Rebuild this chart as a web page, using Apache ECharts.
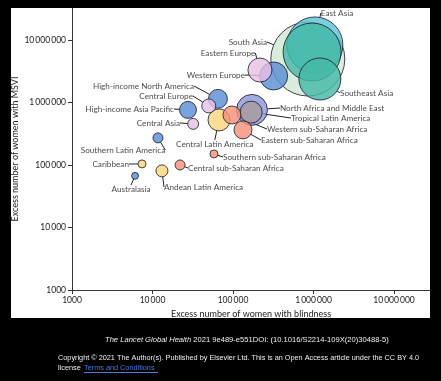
<!DOCTYPE html>
<html>
<head>
<meta charset="utf-8">
<script src="https://cdn.jsdelivr.net/npm/echarts@6/dist/echarts.min.js"></script>
<style>
html,body{margin:0;padding:0;background:#000;}
#chart{width:441px;height:381px;}
</style>
</head>
<body>
<div id="chart"></div>
<script>
// ---- data ----
var regions = ["South Asia","East Asia","","Southeast Asia","North Africa and Middle East","Western Europe","Eastern Europe","Central Latin America","Tropical Latin America","High-income North America","Western sub-Saharan Africa","Eastern sub-Saharan Africa","High-income Asia Pacific","Central Europe","Andean Latin America","Central Asia","Southern Latin America","Central sub-Saharan Africa","Southern sub-Saharan Africa","Caribbean","Australasia"];
var blindness = [850000,1040000,960000,1200000,172000,320000,216000,67000,168000,65000,97000,133000,27600,50000,13100,32000,11700,22000,58000,7400,6070];
var msvi = [4950000,8300000,6400000,2370000,760000,2650000,3300000,525000,700000,1140000,630000,364000,760000,880000,80500,454000,271000,100000,150000,104000,67000];
var bubbleWeight = [1369,784,841,441,240,196,144,121,121,90,81,81,72,49,36,30,25,25,16,16,12];
var groups = ["sa","ea","teal","teal","name","hi","ce","lat","tla","hi","ssa","ssa","hi","ce","lat","ce","hi","ssa","ssa","lat","hi"];
var xTicks = [1000,10000,100000,1000000,10000000];
var yTicks = [1000,10000,100000,1000000,10000000];

// ---- styles ----
var groupColor = {sa:"#cfe9d3", ea:"#5cc6d6", teal:"#45b8a7", name:"#8e97dc", hi:"#5a8fd5", ce:"#e6c1e4", lat:"#fbd57e", tla:"#a99b9c", ssa:"#f4917a"};
var labelPos = {
 "East Asia":[337,13,"center"],
 "South Asia":[267,42,"right"],
 "Eastern Europe":[228,53,"center"],
 "Western Europe":[245,75,"right"],
 "High-income North America":[194,86,"right"],
 "Central Europe":[193,96,"right"],
 "High-income Asia Pacific":[174,109,"right"],
 "Central Asia":[180,123,"right"],
 "Southern Latin America":[123,150,"center"],
 "Caribbean":[129,164,"right"],
 "Australasia":[131,189,"center"],
 "Andean Latin America":[164,187,"left"],
 "Central sub-Saharan Africa":[188,168,"left"],
 "Southern sub-Saharan Africa":[223,157,"left"],
 "Central Latin America":[176,144,"left"],
 "Eastern sub-Saharan Africa":[261,140,"left"],
 "Western sub-Saharan Africa":[267,129,"left"],
 "Tropical Latin America":[291,118,"left"],
 "North Africa and Middle East":[280,108,"left"],
 "Southeast Asia":[340,93,"left"]
};
var FONT = "Lato";

function fmt(v){
  var s = String(Math.round(v));
  if (s.length < 5) return s;
  return s.replace(/\B(?=(\d{3})+(?!\d))/g, "\u2009");
}

var data = regions.map(function(r,i){
  return {
    name: r,
    value: [blindness[i], msvi[i], bubbleWeight[i]],
    itemStyle: {color: groupColor[groups[i]]},
    label: {show: r !== ""},
    labelLine: {show: r !== ""}
  };
});

var chart = echarts.init(document.getElementById('chart'), null, {renderer:'canvas'});
chart.setOption({
  backgroundColor: '#fff',
  animation: false,
  grid: {left:72, right:11, top:8, bottom:91, containLabel:false, outerBoundsMode:'none'},
  xAxis: {
    type:'log', logBase:10, min:1000, max:28000000,
    name:'Excess number of women with blindness', nameLocation:'middle', nameGap:20, nameMoveOverlap:false,
    nameTextStyle:{fontFamily:FONT, fontSize:9, color:'#222'},
    axisLine:{show:true, lineStyle:{color:'#333', width:1}},
    axisTick:{show:true, length:4, lineStyle:{color:'#333'}, customValues:xTicks},
    axisLabel:{fontFamily:FONT, fontSize:8.5, color:'#222', margin:6, customValues:xTicks,
      formatter:function(v){ return fmt(v); }},
    splitLine:{show:false}
  },
  yAxis: {
    type:'log', logBase:10, min:1000, max:32400000,
    name:'Excess number of women with MSVI', nameLocation:'middle', nameGap:52, nameMoveOverlap:false,
    nameTextStyle:{fontFamily:FONT, fontSize:9, color:'#222'},
    axisLine:{show:true, lineStyle:{color:'#333', width:1}},
    axisTick:{show:true, length:4, lineStyle:{color:'#333'}, customValues:yTicks},
    axisLabel:{fontFamily:FONT, fontSize:8.5, color:'#222', margin:6, customValues:yTicks,
      formatter:function(v){ return fmt(v); }},
    splitLine:{show:false}
  },
  graphic: [
    {type:'rect', z:100, shape:{x:0, y:318, width:441, height:63}, style:{fill:'#000'}, silent:true},
    {type:'rect', z:100, shape:{x:0, y:0, width:441, height:8}, style:{fill:'#000'}, silent:true},
    {type:'rect', z:100, shape:{x:0, y:0, width:11, height:381}, style:{fill:'#000'}, silent:true},
    {type:'rect', z:100, shape:{x:430, y:0, width:11, height:381}, style:{fill:'#000'}, silent:true},
    {type:'group', z:101, children:[
      {type:'rect', shape:{x:13, y:323, width:42, height:36, r:3}, style:{fill:'#8c8c8c'}},
      {type:'rect', shape:{x:20, y:345, width:10, height:14}, style:{fill:'#444'}},
      {type:'rect', shape:{x:36, y:348, width:14, height:11}, style:{fill:'#555'}},
      {type:'text', x:12, y:363, style:{text:'ELSEVIER', fill:'#ddd', font:'9px "Liberation Serif"'}}
    ]},
    {type:'text', z:101, x:105, y:336, style:{
      text:'{i|The Lancet Global Health} 2021 9e489-e551DOI: (10.1016/S2214-109X(20)30488-5)',
      fill:'#eee', font:'7.6px "Liberation Sans"',
      rich:{i:{fontStyle:'italic', fill:'#eee', fontSize:7.6, fontFamily:'Liberation Sans'}}}},
    {type:'text', z:101, x:58, y:354, style:{
      text:'Copyright \u00a9 2021 The Author(s). Published by Elsevier Ltd. This is an Open Access article under the CC BY 4.0',
      fill:'#eee', font:'7.3px "Liberation Sans"'}},
    {type:'text', z:101, x:58, y:364, style:{text:'license', fill:'#eee', font:'7.3px "Liberation Sans"'}},
    {type:'text', z:101, x:84, y:364, style:{text:'Terms and Conditions', fill:'#4a78e0', font:'7.3px "Liberation Sans"'}},
    {type:'line', z:101, shape:{x1:84, y1:372.5, x2:158, y2:372.5}, style:{stroke:'#4a78e0', lineWidth:1}}
  ],
  series: [{
    type:'scatter',
    data: data,
    symbolSize: function(v){ return 2*Math.sqrt(v[2]); },
    itemStyle: {opacity:0.82, borderColor:'#1d1d2b', borderWidth:1},
    label: {show:true, position:'right', formatter:'{b}', fontFamily:FONT, fontSize:8.2, color:'#222'},
    labelLine: {show:true, lineStyle:{color:'#222', width:1}},
    labelLayout: function(p){
      var name = regions[p.dataIndex];
      var pos = labelPos[name];
      if (!pos) return {};
      return {x:pos[0], y:pos[1], align:pos[2], verticalAlign:'middle', moveOverlap:null, hideOverlap:false};
    }
  }]
});
</script>
</body>
</html>
